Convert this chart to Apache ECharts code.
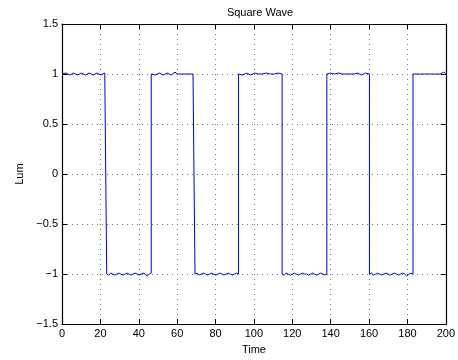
<!DOCTYPE html>
<html>
<head>
<meta charset="utf-8">
<script src="https://cdn.jsdelivr.net/npm/echarts@6/dist/echarts.min.js"></script>
<style>
html,body{margin:0;padding:0;background:#fff;}
#c{width:458px;height:360px;}
</style>
</head>
<body>
<div id="c"></div>
<script>
var titleText = 'Square Wave';
var xName = 'Time';
var yName = 'Lum';
var xTicks = [0, 20, 40, 60, 80, 100, 120, 140, 160, 180, 200];
var yTicks = [-1.5, -1, -0.5, 0, 0.5, 1, 1.5];

// Times where each plateau starts/ends; samples inside are evenly spaced
var edges = [0, 23.3, 46.5, 69.3, 92.0, 114.7, 138.0, 160.2, 182.9, 200];

var high1 = [1.00,0.99,1.01,1.00,0.99,1.00,1.01,1.00,0.99,1.00,1.01,1.00,0.99,1.00,1.01,1.00,0.99,1.00,1.01,1.00,0.99,1.00,1.01,1.00];
var low1  = [-1.00,-1.01,-0.99,-1.00,-1.01,-1.00,-0.99,-1.00,-1.01,-1.00,-0.99,-1.00,-1.01,-1.00,-0.99,-1.00,-1.01,-1.00,-0.99,-1.00,-1.02,-1.00,-0.99];
var high2 = [1.00,1.01,0.99,1.00,1.01,1.00,0.99,1.00,1.01,1.00,0.99,1.00,1.02,1.00,0.99,1.00,1.01,1.00,0.99,1.00,1.01,1.00,1.00];
var low2  = [-1.00,-0.99,-1.01,-1.00,-0.99,-1.00,-1.01,-1.00,-0.99,-1.00,-1.01,-1.00,-0.99,-1.00,-1.01,-1.00,-0.99,-1.00,-1.01,-1.00,-0.99,-1.00];
var high3 = [1.00,1.01,0.99,1.00,1.01,1.00,0.99,1.00,1.01,1.00,1.00,1.00,1.00,1.00,1.01,1.00,1.00,1.00,1.00,1.00,1.01,1.00,1.00];
var low3  = [-1.00,-1.01,-0.99,-1.00,-1.01,-1.00,-0.99,-1.00,-1.01,-1.00,-0.99,-1.00,-1.00,-1.01,-1.00,-0.99,-1.00,-1.01,-1.00,-0.99,-1.00,-1.01,-1.00];
var high4 = [1.00,0.99,1.01,1.00,1.00,1.00,1.01,1.00,1.00,1.00,1.00,1.01,1.00,1.00,1.00,1.00,1.01,1.00,0.99,1.00,1.01,1.00,1.00];
var low4  = [-1.00,-0.99,-1.01,-1.00,-0.99,-1.00,-1.01,-1.00,-0.99,-1.00,-1.01,-1.00,-0.99,-1.00,-1.01,-1.00,-0.99,-1.00,-1.02,-1.00,-0.99,-1.00];
var high5 = [1.00,1.01,1.00,0.99,1.00,1.01,1.00,0.99,1.00,1.01,1.00,0.99,1.00,1.01,1.00,0.99,1.02,1.00];

var plateaus = [high1, low1, high2, low2, high3, low3, high4, low4, high5];
var seriesData = [];
plateaus.forEach(function (vals, p) {
  var t0 = edges[p], t1 = edges[p + 1];
  vals.forEach(function (v, i) {
    seriesData.push([t0 + (t1 - t0) * i / (vals.length - 1), v]);
  });
});

var FONT = 'Liberation Sans, Arial, Helvetica, sans-serif';
function fmtNum(v) {
  var s = String(Math.abs(v));
  return v < 0 ? '\u2212' + s : s;
}

var chart = echarts.init(document.getElementById('c'), null, { renderer: 'canvas' });
var tickStyle = { show: true, inside: true, length: 5, lineStyle: { color: '#000', width: 1 } };
var lineStyleAxis = { show: true, onZero: false, lineStyle: { color: '#000', width: 1.2 } };
var splitDotted = { show: true, lineStyle: { color: '#777', width: 1, type: [1, 4] } };

chart.setOption({
  animation: false,
  backgroundColor: '#fff',
  title: {
    text: titleText, left: 255, top: 2, textAlign: 'center',
    textStyle: { fontFamily: FONT, fontSize: 11, fontWeight: 'normal', color: '#000' }
  },
  grid: { left: 62, right: 9, top: 24, bottom: 31, containLabel: false },
  xAxis: [{
    type: 'value', min: xTicks[0], max: xTicks[xTicks.length - 1], interval: 20,
    position: 'bottom',
    axisLine: lineStyleAxis, axisTick: tickStyle,
    axisLabel: { color: '#000', fontFamily: FONT, fontSize: 11, margin: 4 },
    splitLine: splitDotted,
    name: xName, nameLocation: 'middle', nameGap: 19,
    nameTextStyle: { color: '#000', fontFamily: FONT, fontSize: 11 }
  }, {
    type: 'value', min: xTicks[0], max: xTicks[xTicks.length - 1], interval: 20,
    position: 'top',
    axisLine: lineStyleAxis, axisTick: tickStyle,
    axisLabel: { show: false }, splitLine: { show: false }
  }],
  yAxis: [{
    type: 'value', min: yTicks[0], max: yTicks[yTicks.length - 1], interval: 0.5,
    position: 'left',
    axisLine: lineStyleAxis, axisTick: tickStyle,
    axisLabel: { color: '#000', fontFamily: FONT, fontSize: 11, margin: 4, formatter: fmtNum },
    splitLine: splitDotted,
    name: yName, nameLocation: 'middle', nameGap: 32, nameRotate: 90,
    nameTextStyle: { color: '#000', fontFamily: FONT, fontSize: 11 }
  }, {
    type: 'value', min: yTicks[0], max: yTicks[yTicks.length - 1], interval: 0.5,
    position: 'right',
    axisLine: lineStyleAxis, axisTick: tickStyle,
    axisLabel: { show: false }, splitLine: { show: false }
  }],
  series: [{
    type: 'line', data: seriesData, xAxisIndex: 0, yAxisIndex: 0,
    showSymbol: false, symbol: 'none',
    lineStyle: { color: '#0000ff', width: 1 },
    z: 5
  }]
});
</script>
</body>
</html>
